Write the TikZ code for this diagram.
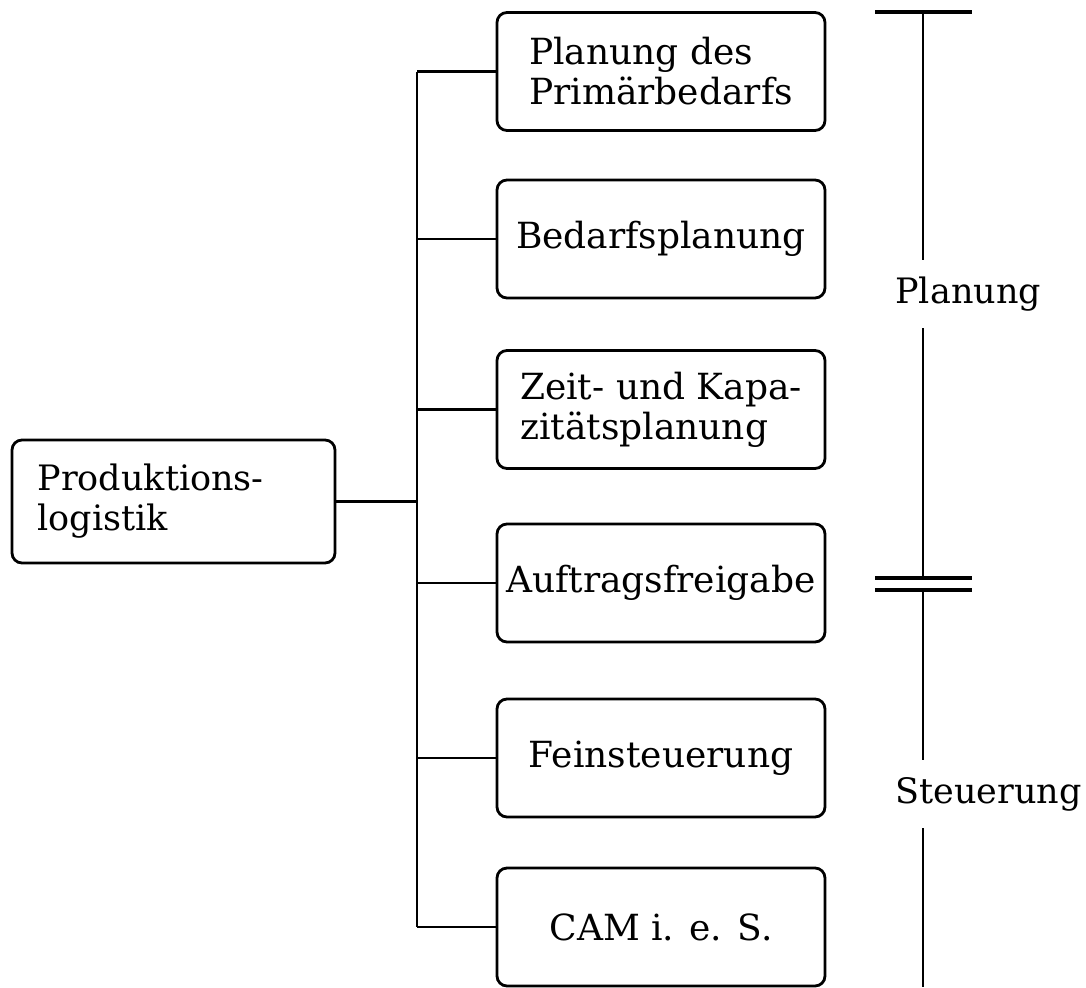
\documentclass[tikz,border=0pt]{standalone}
\usepackage{fontspec}
\setmainfont{DejaVu Serif}
\begin{document}
\begin{tikzpicture}[x=0.5pt,y=-0.5pt,
  every node/.style={font=\fontsize{18}{20}\selectfont},
  box/.style={draw,line width=1.4pt,rounded corners=5pt,minimum width=164pt,minimum height=59pt,inner sep=2pt,align=left},
  conn/.style={line width=1.2pt},
  brk/.style={line width=1.4pt},
  lbl/.style={anchor=base west,inner sep=0pt,font=\fontsize{17.5}{20}\selectfont}]
\useasboundingbox (0,0) rectangle (1086,987);
% main box
\node[box,minimum width=161.5pt,minimum height=61.5pt,text width=136pt,inner xsep=12.5pt,font=\fontsize{17.5}{20}\selectfont] (L) at (173.5,501.5) {Produktions-\\logistik};
% sub boxes
\node[box] (b1) at (661,71.5) {Planung des\\Primärbedarfs};
\node[box] (b2) at (661,239) {Bedarfsplanung};
\node[box] (b3) at (661,409.5) {Zeit- und Kapa-\\zitätsplanung};
\node[box] (b4) at (661,583) {Auftragsfreigabe};
\node[box] (b5) at (661,758) {Feinsteuerung};
\node[box] (b6) at (661,927) {CAM i. e. S.};
% trunk
\coordinate (tr) at (417,0);
\coordinate (t1) at (b1.west -| tr);
\coordinate (t6) at (b6.west -| tr);
\coordinate (tL) at (L.east -| tr);
\draw[conn] (t1) -- (t6);
\draw[conn] (L.east) -- (tL);
\foreach \i in {1,...,6}{
  \draw[conn] (b\i.west) -- (b\i.west -| tr);
}
% bracket
\coordinate (bt1) at (875,12);
\coordinate (bt2) at (972,12);
\coordinate (v0) at (923,12);
\coordinate (v1) at (923,260);
\coordinate (v2) at (923,328);
\coordinate (v3) at (923,578);
\coordinate (d1a) at (875,578);
\coordinate (d1b) at (972,578);
\coordinate (d2a) at (875,590);
\coordinate (d2b) at (972,590);
\coordinate (v4) at (923,590);
\coordinate (v5) at (923,760);
\coordinate (v6) at (923,828);
\coordinate (v7) at (923,987);
\draw[brk,line width=2.2pt] (bt1) -- (bt2);
\draw[brk] (v0) -- (v1);
\draw[brk] (v2) -- (v3);
\draw[brk,line width=1.8pt] (d1a) -- (d1b);
\draw[brk,line width=2pt] (d2a) -- (d2b);
\draw[brk] (v4) -- (v5);
\draw[brk] (v6) -- (v7);
\node[lbl] (pl) at (895,303) {Planung};
\node[lbl] (st) at (895,803) {Steuerung};
\end{tikzpicture}
\end{document}
